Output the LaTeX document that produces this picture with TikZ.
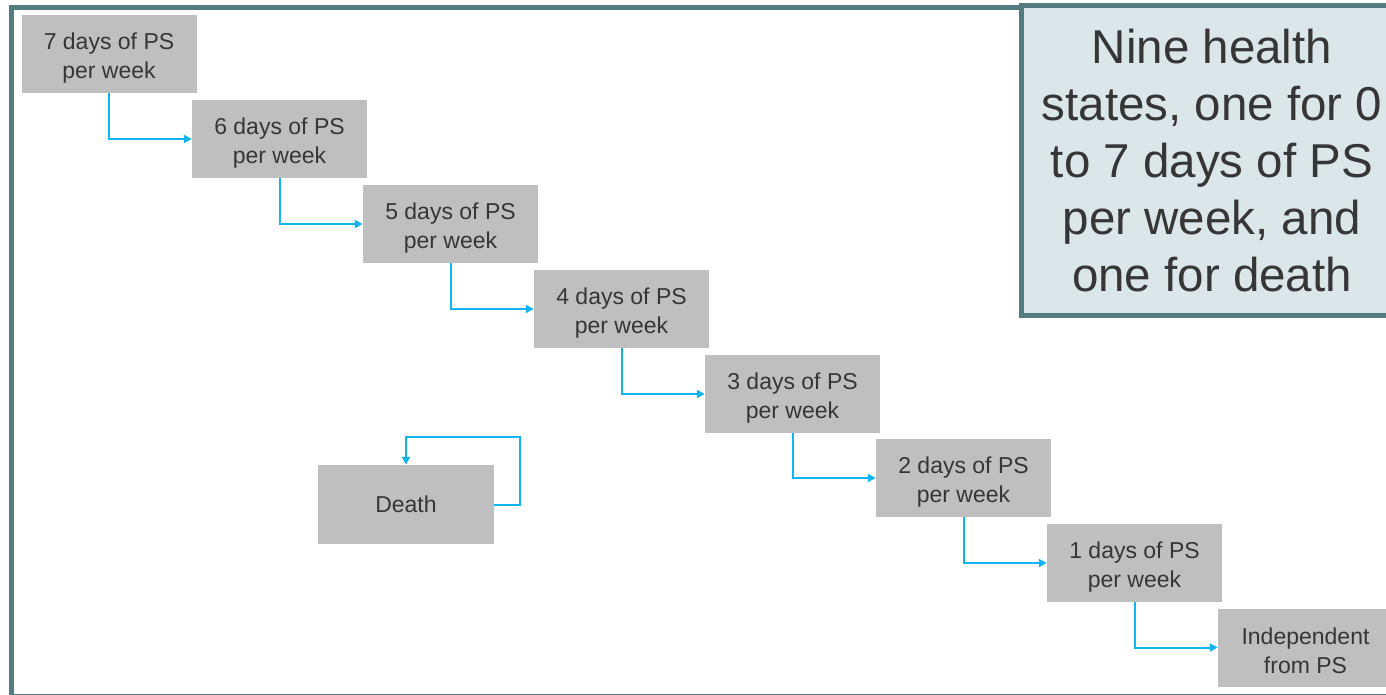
\documentclass[tikz,border=0pt]{standalone}
\usepackage{fontspec}
\setmainfont{Liberation Sans}
\usetikzlibrary{arrows.meta}
\definecolor{teal}{HTML}{527C80}
\definecolor{infofill}{HTML}{DAE6E7}
\definecolor{boxgray}{HTML}{BFBFBF}
\definecolor{txt}{HTML}{363636}
\definecolor{arrowblue}{HTML}{12B4F0}
\tikzset{
  statebox/.style={fill=boxgray, draw=none, minimum width=175pt, minimum height=78pt, inner sep=0pt,
    align=center, text=txt, font=\fontsize{23}{29}\selectfont, text height=53pt},
  arr/.style={draw=arrowblue, line width=2pt, -{Triangle[length=8pt,width=8pt]}},
  infobox/.style={fill=infofill, draw=teal, line width=5pt},
}
\begin{document}
\begin{tikzpicture}[x=1pt,y=-1pt]
\useasboundingbox (0,0) rectangle (1386,694);
\begin{scope}
\clip (0,0) rectangle (1386,694);
\draw[teal, line width=5pt] (11,7.5) rectangle (1420,696.5);
\draw[infobox] (1021.5,5.5) rectangle (1420,315);
\node[text=txt, align=center, font=\fontsize{47.5}{57}\selectfont] (info) at (1212,161)
  {Nine health\\states, one for 0\\to 7 days of PS\\per week, and\\one for death};
\node[statebox] (b1) at (109,54) {7 days of PS\\per week};
\node[statebox] (b2) at (279.5,139) {6 days of PS\\per week};
\node[statebox] (b3) at (450.5,224) {5 days of PS\\per week};
\node[statebox] (b4) at (621.5,309) {4 days of PS\\per week};
\node[statebox] (b5) at (792.5,394) {3 days of PS\\per week};
\node[statebox] (b6) at (963.5,478) {2 days of PS\\per week};
\node[statebox] (b7) at (1134.5,563) {1 days of PS\\per week};
\node[statebox] (b8) at (1305.5,647.5) {Independent\\from PS};
\node[statebox, minimum width=176pt, minimum height=79pt, text height=] (death) at (406,504.5) {Death};
\draw[arr] (b1.south) |- (b2.west);
\draw[arr] (b2.south) |- (b3.west);
\draw[arr] (b3.south) |- (b4.west);
\draw[arr] (b4.south) |- (b5.west);
\draw[arr] (b5.south) |- (b6.west);
\draw[arr] (b6.south) |- (b7.west);
\draw[arr] (b7.south) |- (b8.west);
\draw[arr] (death.east) -- ++(26,0) -- ++(0,-67.5) -| (death.north);
\end{scope}
\end{tikzpicture}
\end{document}
